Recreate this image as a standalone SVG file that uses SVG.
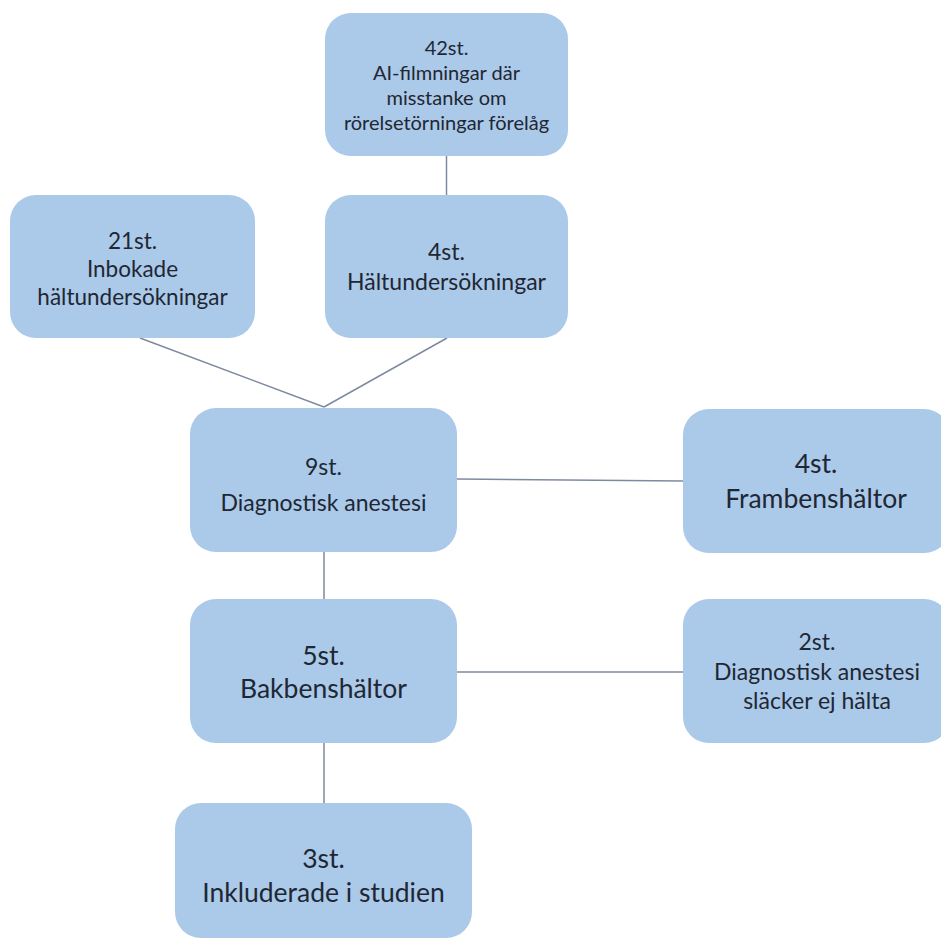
<svg xmlns="http://www.w3.org/2000/svg" width="941" height="941" viewBox="0 0 941 941">
<style>
.box{fill:#abc9e9;}
.t{font-family:Lato,"Open Sans","Liberation Sans",sans-serif;fill:#1e2733;text-anchor:middle;}
.conn line{stroke:#7d8aa0;stroke-width:1.5;fill:none;}
</style>
<rect width="941" height="941" fill="#ffffff"/>
<g id="connectors" class="conn">
<line x1="446.5" y1="156" x2="446.5" y2="195"/>
<line x1="140" y1="338" x2="324" y2="407"/>
<line x1="447" y1="338" x2="324" y2="407"/>
<line x1="457" y1="479" x2="683" y2="481"/>
<line x1="324" y1="552" x2="324" y2="599"/>
<line x1="457" y1="672" x2="683" y2="672"/>
<line x1="324" y1="743" x2="324" y2="803"/>
</g>
<g id="n42">
<rect class="box" x="325" y="13" width="243" height="143" rx="26"/>
<text class="t" font-size="20" x="446.5" y="55">42st.</text>
<text class="t" font-size="20" x="446.5" y="80">AI-filmningar där</text>
<text class="t" font-size="20" x="446.5" y="105">misstanke om</text>
<text class="t" font-size="20" x="446.5" y="130">rörelsetörningar förelåg</text>
</g>
<g id="n21">
<rect class="box" x="10" y="195" width="245" height="143" rx="26"/>
<text class="t" font-size="22.5" x="132.5" y="249">21st.</text>
<text class="t" font-size="22.5" x="132.5" y="277">Inbokade</text>
<text class="t" font-size="22.5" x="132.5" y="305">hältundersökningar</text>
</g>
<g id="n4h">
<rect class="box" x="325" y="195" width="243" height="143" rx="26"/>
<text class="t" font-size="23" x="446.5" y="260">4st.</text>
<text class="t" font-size="23" x="446.5" y="290">Hältundersökningar</text>
</g>
<g id="n9">
<rect class="box" x="190" y="408" width="267" height="144" rx="26"/>
<text class="t" font-size="23" x="323.5" y="475">9st.</text>
<text class="t" font-size="23" x="323.5" y="511">Diagnostisk anestesi</text>
</g>
<g id="nfram">
<rect class="box" x="683" y="409" width="267" height="144" rx="26"/>
<text class="t" font-size="26.5" x="816" y="473">4st.</text>
<text class="t" font-size="26.5" x="816" y="508">Frambenshältor</text>
</g>
<g id="n5">
<rect class="box" x="190" y="599" width="267" height="144" rx="26"/>
<text class="t" font-size="26.5" x="323.5" y="665">5st.</text>
<text class="t" font-size="26.5" x="323.5" y="698">Bakbenshältor</text>
</g>
<g id="n2">
<rect class="box" x="683" y="599" width="267" height="144" rx="26"/>
<text class="t" font-size="23" x="817" y="650">2st.</text>
<text class="t" font-size="23" x="817" y="680">Diagnostisk anestesi</text>
<text class="t" font-size="23" x="817" y="709">släcker ej hälta</text>
</g>
<g id="n3">
<rect class="box" x="175" y="803" width="297" height="135" rx="26"/>
<text class="t" font-size="26.5" x="323.5" y="868">3st.</text>
<text class="t" font-size="26.5" x="323.5" y="902">Inkluderade i studien</text>
</g>
</svg>
